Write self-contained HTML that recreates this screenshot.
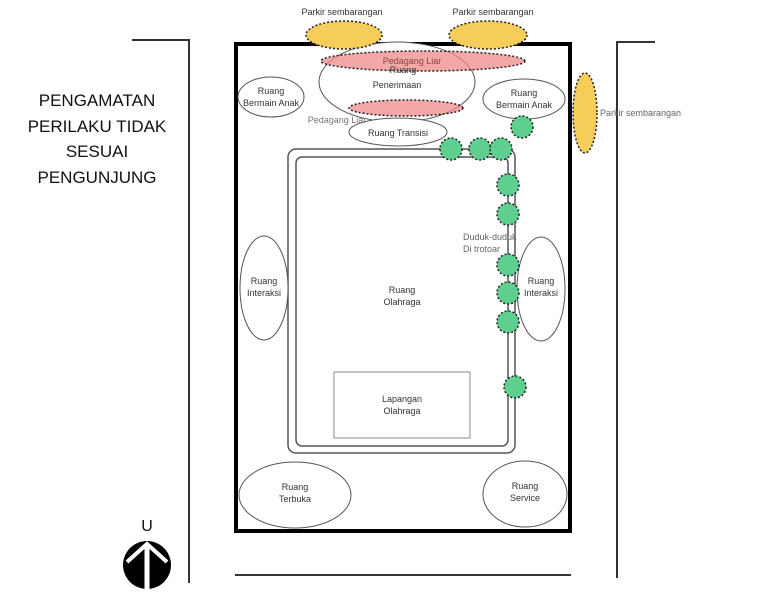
<!DOCTYPE html>
<html><head><meta charset="utf-8"><style>body{margin:0;background:#fff}svg{display:block}text{font-family:"Liberation Sans",sans-serif}</style></head>
<body>
<svg width="765" height="601" viewBox="0 0 765 601" xmlns="http://www.w3.org/2000/svg">
<g stroke="#333" stroke-width="2" fill="none">
<polyline points="132,40 189,40 189,583"/>
<polyline points="655,42 617,42 617,578"/>
<line x1="235" y1="575" x2="571" y2="575"/>
</g>
<rect x="236" y="44" width="334" height="487" fill="none" stroke="#000" stroke-width="4"/>
<rect x="288" y="149" width="227" height="304" rx="8" fill="none" stroke="#555" stroke-width="1.5"/>
<rect x="296" y="157" width="212" height="289" rx="6" fill="none" stroke="#555" stroke-width="1.5"/>
<rect x="334" y="372" width="136" height="66" fill="none" stroke="#888" stroke-width="1"/>
<g font-size="9" fill="#333" text-anchor="middle">
<text x="402" y="293">Ruang</text><text x="402" y="305">Olahraga</text>
<text x="402" y="402">Lapangan</text><text x="402" y="414">Olahraga</text>
</g>
<g fill="#fff" stroke="#555" stroke-width="1">
<ellipse cx="397" cy="82" rx="78" ry="40"/>
<ellipse cx="271" cy="97" rx="33" ry="20"/>
<ellipse cx="524" cy="99" rx="41" ry="20"/>
<ellipse cx="398" cy="132" rx="49" ry="14"/>
<ellipse cx="264" cy="288" rx="24" ry="52"/>
<ellipse cx="541" cy="289" rx="24" ry="52"/>
<ellipse cx="295" cy="495" rx="56" ry="33"/>
<ellipse cx="525" cy="494" rx="42" ry="33"/>
</g>
<g fill="#f08a8a" fill-opacity="0.75" stroke="#222" stroke-width="1.5" stroke-dasharray="2,2">
<ellipse cx="423" cy="61" rx="102" ry="10"/>
<ellipse cx="406" cy="108" rx="57" ry="8"/>
</g>
<g fill="#f6cc5a" stroke="#222" stroke-width="1.5" stroke-dasharray="2,2">
<ellipse cx="344" cy="35" rx="38" ry="14"/>
<ellipse cx="488" cy="35" rx="39" ry="14"/>
<ellipse cx="585" cy="113" rx="12" ry="40"/>
</g>
<g fill="#5fcf8f" stroke="#222" stroke-width="1.5" stroke-dasharray="2,2">
<circle cx="522" cy="127" r="11"/><circle cx="451" cy="149" r="11"/><circle cx="480" cy="149" r="11"/><circle cx="501" cy="149" r="11"/>
<circle cx="508" cy="185" r="11"/><circle cx="508" cy="214" r="11"/><circle cx="508" cy="265" r="11"/><circle cx="508" cy="293" r="11"/><circle cx="508" cy="322" r="11"/><circle cx="515" cy="387" r="11"/>
</g>
<g font-size="9" fill="#333" text-anchor="middle">
<text x="342" y="15">Parkir sembarangan</text>
<text x="493" y="15">Parkir sembarangan</text>
<text x="412" y="64" fill="#844">Pedagang Liar</text>
<text x="403" y="73">Ruang</text><text x="397" y="88">Penerimaan</text>
<text x="271" y="94">Ruang</text><text x="271" y="106">Bermain Anak</text>
<text x="524" y="96">Ruang</text><text x="524" y="108">Bermain Anak</text>
<text x="337" y="123" fill="#777">Pedagang Liar</text>
<text x="398" y="136">Ruang Transisi</text>
<text x="264" y="284">Ruang</text><text x="264" y="296">Interaksi</text>
<text x="541" y="284">Ruang</text><text x="541" y="296">Interaksi</text>
<text x="295" y="490">Ruang</text><text x="295" y="502">Terbuka</text>
<text x="525" y="489">Ruang</text><text x="525" y="501">Service</text>
</g>
<g font-size="9" fill="#666">
<text x="600" y="116">Parkir sembarangan</text>
<text x="463" y="240">Duduk-duduk</text><text x="463" y="252">Di trotoar</text>
</g>
<g font-size="17" fill="#111" text-anchor="middle">
<text x="97" y="106">PENGAMATAN</text>
<text x="97" y="132">PERILAKU TIDAK</text>
<text x="97" y="157">SESUAI</text>
<text x="97" y="183">PENGUNJUNG</text>
</g>
<text x="147" y="531" font-size="16" text-anchor="middle" fill="#111">U</text>
<circle cx="147" cy="565" r="24" fill="#000"/>
<polyline points="127,562 147,544 167,562" fill="none" stroke="#fff" stroke-width="4"/>
<line x1="147" y1="546" x2="147" y2="592" stroke="#fff" stroke-width="5"/>
</svg>
</body></html>
